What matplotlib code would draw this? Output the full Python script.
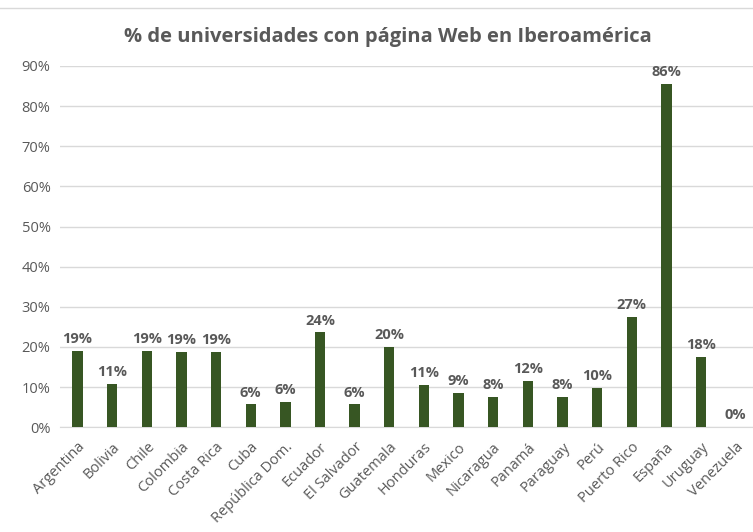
import matplotlib.pyplot as plt
from matplotlib.lines import Line2D

plt.rcParams['font.family'] = ['Open Sans', 'DejaVu Sans']

paises = ['Argentina', 'Bolivia', 'Chile', 'Colombia', 'Costa Rica', 'Cuba',
          'República Dom.', 'Ecuador', 'El Salvador', 'Guatemala', 'Honduras',
          'Mexico', 'Nicaragua', 'Panamá', 'Paraguay', 'Perú', 'Puerto Rico',
          'España', 'Uruguay', 'Venezuela']
valores = [0.190, 0.108, 0.190, 0.187, 0.187, 0.057, 0.062, 0.236, 0.057,
           0.200, 0.106, 0.086, 0.076, 0.116, 0.076, 0.098, 0.274, 0.856,
           0.176, 0.0]
yticks = [0, 0.1, 0.2, 0.3, 0.4, 0.5, 0.6, 0.7, 0.8, 0.9]

gris = '#595959'
verde = '#375623'

fig = plt.figure(figsize=(7.53, 5.32), dpi=100)
ax = fig.add_axes([0.08, 0.197, 0.92, 0.679])

x = list(range(len(paises)))
ax.bar(x, valores, width=0.3, color=verde, zorder=3)

for xi, v in zip(x, valores):
    ax.text(xi, v + 0.012, '{:.0%}'.format(v), ha='center', va='bottom',
            fontsize=10.5, fontweight='bold', color=gris, clip_on=False)

ax.set_xlim(-0.5, len(paises) - 0.5)
ax.set_ylim(0, 0.9)
ax.set_yticks(yticks)
ax.set_yticklabels(['{:.0%}'.format(t) for t in yticks], color=gris, fontsize=10.5)
ax.set_xticks(x)
ax.set_xticklabels(paises, rotation=45, ha='right', rotation_mode='anchor',
                   color=gris, fontsize=10.5)
ax.tick_params(length=0, pad=7)
ax.tick_params(axis='x', pad=9)

ax.grid(axis='y', color='#d9d9d9', linewidth=1, zorder=0)
for s in ['top', 'right', 'left']:
    ax.spines[s].set_visible(False)
ax.spines['bottom'].set_color('#d9d9d9')

fig.suptitle('% de universidades con página Web en Iberoamérica', x=0.515, y=0.95,
             fontsize=14.5, fontweight='bold', color=gris)

fig.add_artist(Line2D([0.0, 1.0], [0.985, 0.985], color='#d9d9d9', linewidth=1))

fig.savefig('out.png', dpi=100)
